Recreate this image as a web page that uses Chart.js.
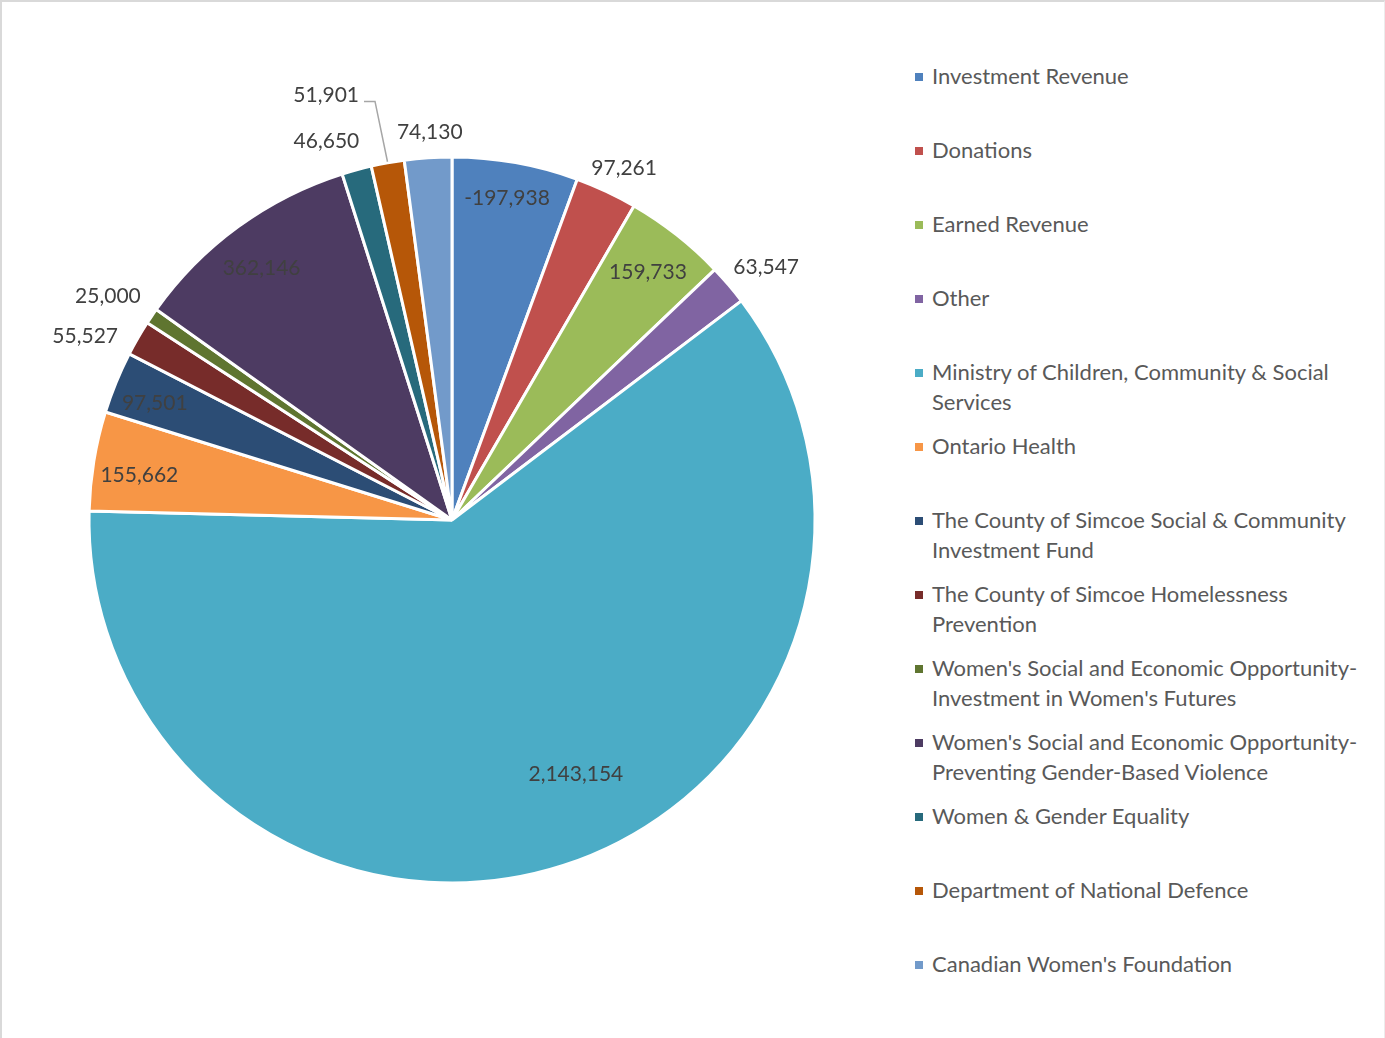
<!DOCTYPE html>
<html>
<head>
<meta charset="utf-8">
<script src="https://cdn.jsdelivr.net/npm/chart.js@4.4.1/dist/chart.umd.min.js"></script>
<style>
  body { margin: 0; background: #fff; }
  #frame { position: absolute; left: 0; top: 0; width: 1382px; height: 1050px;
           border-left: 2px solid #d9d9d9; border-top: 2px solid #d9d9d9; border-right: 1px solid #ececec; }
  #pie { position: absolute; left: 0; top: 0; }
  #legend { position: absolute; left: 915px; top: 61px; width: 460px;
            font-family: Lato, "Liberation Sans", sans-serif; font-size: 22px; color: #595959; }
  .item { position: absolute; left: 0; line-height: 30px; }
  .item .box { position: absolute; left: 0; top: 12px; width: 8px; height: 8px; }
  .item .txt { position: absolute; left: 17px; top: 0; width: 440px; }
</style>
</head>
<body>
<div id="frame"></div>
<canvas id="pie" width="904" height="1040"></canvas>
<div id="legend"></div>

<script>
const categories = [
  "Investment Revenue",
  "Donations",
  "Earned Revenue",
  "Other",
  "Ministry of Children, Community & Social Services",
  "Ontario Health",
  "The County of Simcoe Social & Community Investment Fund",
  "The County of Simcoe Homelessness Prevention",
  "Women's Social and Economic Opportunity-Investment in Women's Futures",
  "Women's Social and Economic Opportunity-Preventing Gender-Based Violence",
  "Women & Gender Equality",
  "Department of National Defence",
  "Canadian Women's Foundation"
];

const amounts = [-197938, 97261, 159733, 63547, 2143154, 155662, 97501, 55527, 25000, 362146, 46650, 51901, 74130];

const colors = ["#4F81BD", "#C0504D", "#9BBB59", "#8064A2", "#4BACC6", "#F79646",
                "#2C4D75", "#772C2A", "#5F7530", "#4D3B62", "#276A7C", "#B65708", "#729ACA"];

// where each value label sits: fraction of radius, and a small angle nudge (degrees)
const labelRadius = [0.90, 1.08, 0.87, 1.11, 0.78, 0.87, 0.88, 1.13, 1.13, 0.87, 1.10, 1.22, 1.07];
const labelShift  = [-0.4, 0.9, 0.1, 1.6, -8.1, -1.3, -0.8, -3.5, -1.2, -1, -3.1, -6.3, 0.5];
const leader      = [0, 0, 0, 0, 0, 0, 0, 0, 0, 0, 0, 1, 0];

const LABEL_FONT = '21px Lato, "Liberation Sans", sans-serif';

const sliceLabels = {
  id: 'sliceLabels',
  afterDatasetsDraw(chart) {
    const ctx = chart.ctx;
    const arcs = chart.getDatasetMeta(0).data;
    ctx.save();
    ctx.font = LABEL_FONT;
    ctx.fillStyle = '#404040';
    ctx.textAlign = 'center';
    ctx.textBaseline = 'middle';
    arcs.forEach((arc, i) => {
      const p = arc.getProps(['x', 'y', 'startAngle', 'endAngle', 'outerRadius'], true);
      const mid = (p.startAngle + p.endAngle) / 2;
      const a = mid + labelShift[i] * Math.PI / 180;
      const r = p.outerRadius * labelRadius[i];
      const lx = p.x + r * Math.cos(a);
      const ly = p.y + r * Math.sin(a);
      const text = amounts[i].toLocaleString('en-US');
      ctx.fillText(text, lx, ly);

      if (leader[i]) {
        const w = ctx.measureText(text).width;
        const x0 = lx + w / 2 + 5, y0 = ly + 6;
        ctx.beginPath();
        ctx.strokeStyle = '#A6A6A6';
        ctx.lineWidth = 1.5;
        ctx.moveTo(x0, y0);
        ctx.lineTo(x0 + 11, y0);
        ctx.lineTo(p.x + (p.outerRadius + 1) * Math.cos(mid), p.y + (p.outerRadius + 1) * Math.sin(mid));
        ctx.stroke();
      }
    });
    ctx.restore();
  }
};

new Chart(document.getElementById('pie'), {
  type: 'pie',
  data: {
    labels: categories,
    datasets: [{
      data: amounts.map(v => Math.abs(v)),
      backgroundColor: colors,
      borderColor: '#ffffff',
      borderWidth: 3
    }]
  },
  options: {
    responsive: false,
    animation: false,
    radius: 363,
    layout: { padding: 0 },
    plugins: {
      legend: { display: false },
      tooltip: { enabled: false }
    }
  },
  plugins: [sliceLabels]
});

// legend, one fixed 74px slot per item like the original
const legend = document.getElementById('legend');
categories.forEach((name, i) => {
  const item = document.createElement('div');
  item.className = 'item';
  item.style.top = (i * 74) + 'px';
  item.innerHTML = '<div class="box" style="background:' + colors[i] + '"></div><div class="txt"></div>';
  item.querySelector('.txt').textContent = name;
  legend.appendChild(item);
});
</script>
</body>
</html>
